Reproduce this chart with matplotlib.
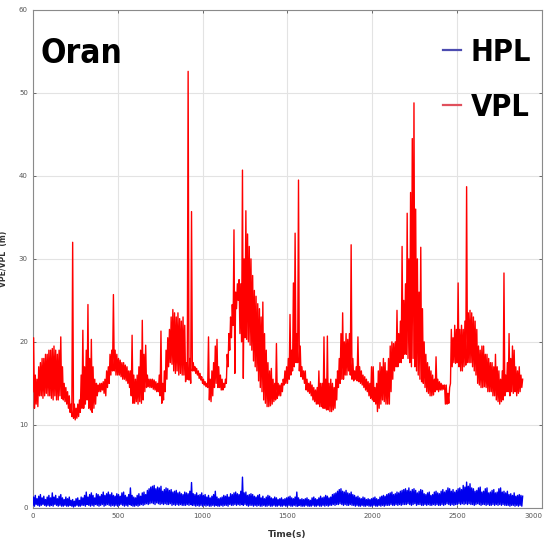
import matplotlib
matplotlib.use("Agg")
import matplotlib.pyplot as plt
from matplotlib.lines import Line2D
import numpy as np

# Sampling of the envelopes: one value every 10 s from 0 to 2880 s
t_start, t_step = 0, 10

# Vertical protection level (m): upper and lower envelope of the fast
# fluctuation, rows of 100 s
vpl_high = [
    20.5, 16.0, 15.5, 17.0, 17.5, 18.0, 18.0, 18.5, 18.5, 19.0,
    19.0, 19.2, 19.5, 19.0, 18.5, 19.0, 20.6, 17.0, 15.0, 14.5,
    14.0, 13.5, 12.5, 32.0, 12.5, 12.0, 12.5, 13.0, 16.0, 21.4,
    17.0, 19.0, 24.5, 18.0, 20.3, 17.0, 15.5, 15.0, 14.8, 15.0,
    15.0, 15.2, 15.5, 16.5, 17.0, 18.5, 19.0, 25.7, 19.0, 18.5,
    18.0, 17.8, 17.5, 17.5, 17.2, 17.0, 16.5, 16.5, 20.8, 16.0,
    15.5, 16.0, 17.0, 19.0, 22.6, 18.5, 19.6, 16.0, 15.5, 15.5,
    15.5, 15.4, 15.2, 15.0, 16.0, 21.3, 15.0, 16.5, 19.0, 20.5,
    21.5, 23.0, 23.9, 23.5, 23.0, 23.5, 22.8, 22.5, 23.0, 22.0,
    17.5, 52.6, 18.0, 35.7, 17.5, 17.0, 16.8, 16.5, 16.2, 15.8,
    15.5, 15.2, 15.0, 20.6, 15.5, 16.5, 17.5, 19.5, 20.3, 17.0,
    16.0, 15.5, 15.0, 15.5, 18.5, 21.0, 23.0, 24.5, 33.5, 26.0,
    27.0, 27.5, 27.0, 40.7, 30.0, 35.8, 33.0, 31.5, 30.0, 28.0,
    26.2, 25.5, 24.6, 24.0, 23.0, 24.8, 21.0, 19.0, 17.5, 16.5,
    16.8, 15.5, 15.0, 19.8, 15.0, 14.8, 15.0, 15.5, 16.5, 17.0,
    18.0, 23.3, 19.0, 27.1, 33.1, 21.0, 39.5, 19.5, 17.0, 16.5,
    16.5, 15.5, 15.0, 15.2, 14.8, 14.5, 14.2, 14.5, 16.5, 15.0,
    15.0, 20.6, 15.5, 20.7, 15.0, 15.5, 15.0, 14.5, 15.5, 16.5,
    18.0, 21.0, 23.5, 20.0, 21.0, 20.3, 21.0, 31.7, 18.0, 16.5,
    17.0, 20.6, 17.0, 16.5, 16.0, 15.8, 15.5, 15.2, 15.0, 17.0,
    17.0, 14.5, 15.0, 16.5, 17.5, 17.0, 18.0, 17.5, 16.5, 18.0,
    19.5, 20.0, 19.8, 20.0, 23.8, 21.0, 22.5, 31.5, 25.0, 27.0,
    35.5, 30.0, 38.0, 44.5, 48.8, 36.0, 30.0, 26.0, 31.4, 24.0,
    20.0, 18.5, 17.5, 17.0, 16.5, 16.0, 15.5, 18.2, 15.5, 15.2,
    15.0, 14.8, 14.8, 14.8, 13.8, 14.5, 21.5, 20.5, 22.0, 21.5,
    27.1, 21.5, 22.0, 21.5, 22.5, 38.7, 23.5, 23.8, 23.5, 23.0,
    22.5, 21.5, 19.5, 19.0, 19.5, 19.5, 18.5, 18.5, 18.0, 17.5,
    17.5, 17.0, 18.5, 17.0, 16.5, 15.5, 16.5, 28.3, 16.0, 17.5,
    21.0, 18.0, 19.5, 19.0, 17.0, 16.5, 17.0, 16.0, 15.5,
]
vpl_low = [
    14.0, 12.0, 12.5, 12.2, 13.5, 13.5, 13.2, 13.5, 13.8, 13.5,
    13.5, 13.2, 13.0, 13.5, 13.0, 13.0, 13.5, 13.2, 13.0, 12.8,
    12.5, 12.0, 11.5, 11.0, 10.8, 10.6, 10.8, 11.0, 11.5, 12.0,
    12.0, 12.5, 13.0, 12.0, 11.8, 11.5, 12.0, 12.5, 13.5, 14.0,
    14.0, 14.2, 13.8, 13.5, 14.5, 15.0, 16.0, 16.5, 16.5, 16.0,
    16.0, 16.0, 15.8, 15.5, 15.5, 15.3, 15.0, 14.5, 13.5, 12.6,
    12.6, 12.8, 12.5, 12.8, 12.6, 13.0, 14.0, 14.5, 14.6, 14.5,
    14.5, 14.3, 14.2, 14.0, 14.0, 13.5, 12.6, 13.0, 14.0, 15.5,
    17.0, 17.5, 17.3, 16.5, 16.2, 16.5, 16.0, 16.2, 16.0, 16.0,
    15.2, 15.5, 15.4, 15.0, 16.5, 16.5, 16.2, 16.0, 15.6, 15.4,
    15.0, 14.8, 14.6, 14.5, 13.0, 12.8, 13.5, 14.5, 15.0, 14.5,
    14.5, 14.2, 14.2, 14.5, 15.0, 17.0, 19.0, 20.5, 22.0, 16.2,
    24.0, 25.0, 21.0, 20.0, 15.6, 20.5, 20.3, 20.0, 19.6, 19.0,
    17.7, 17.0, 16.5, 15.3, 14.5, 14.0, 13.0, 12.6, 12.2, 12.2,
    12.3, 12.5, 12.8, 13.0, 13.2, 13.5, 13.5, 14.0, 14.8, 15.0,
    15.0, 15.5, 16.0, 16.5, 17.0, 17.5, 17.5, 16.5, 15.8, 15.5,
    15.0, 14.2, 14.0, 13.8, 13.5, 13.0, 12.8, 12.5, 12.5, 12.2,
    12.2, 12.0, 12.0, 11.8, 11.8, 11.6, 11.6, 11.8, 12.0, 13.0,
    14.5, 15.0, 15.5, 15.5, 16.0, 16.0, 16.5, 16.0, 15.5, 15.3,
    15.5, 15.3, 15.2, 15.0, 14.8, 14.5, 14.2, 14.0, 13.5, 13.2,
    13.0, 12.8, 12.5, 11.6, 12.0, 12.5, 13.0, 12.8, 12.5, 12.5,
    12.5, 14.0, 15.5, 16.5, 17.0, 17.0, 17.5, 17.5, 18.0, 18.5,
    18.5, 18.0, 17.5, 17.0, 18.0, 17.0, 16.5, 16.0, 15.5, 15.2,
    15.0, 14.5, 14.0, 13.8, 13.5, 13.5, 13.6, 14.0, 14.2, 14.0,
    14.2, 14.2, 14.3, 12.5, 12.5, 12.6, 15.0, 17.0, 17.5, 17.4,
    17.5, 17.0, 16.5, 16.5, 17.0, 17.2, 17.5, 17.5, 17.5, 17.0,
    16.5, 16.0, 15.0, 14.8, 14.5, 14.5, 14.6, 14.5, 14.0, 14.0,
    14.0, 13.5, 13.5, 13.0, 12.8, 12.5, 12.8, 13.0, 13.5, 14.0,
    14.0, 13.5, 14.0, 13.8, 14.0, 13.5, 13.8, 14.0, 14.5,
]

# Horizontal protection level (m): upper and lower envelope, rows of 100 s
hpl_high = [
    1.3, 1.5, 1.1, 1.4, 1.6, 1.2, 1.4, 1.0, 1.3, 1.5,
    1.2, 1.8, 1.3, 1.5, 1.1, 1.4, 1.6, 1.2, 1.0, 1.3,
    1.1, 1.3, 0.9, 1.0, 0.8, 1.1, 1.2, 0.9, 1.3, 1.2,
    1.5, 1.9, 1.3, 1.6, 1.8, 1.5, 1.2, 1.7, 1.6, 1.4,
    1.6, 1.9, 1.5, 1.7, 1.9, 1.6, 1.8, 1.5, 1.4, 1.7,
    1.6, 1.4, 1.8, 1.9, 1.5, 1.3, 1.6, 2.4, 1.5, 1.3,
    1.2, 1.5, 1.7, 1.4, 1.8, 1.9, 1.6, 2.1, 2.3, 2.5,
    2.6, 2.7, 2.3, 2.5, 2.4, 2.6, 2.0, 2.2, 2.4, 2.3,
    2.1, 2.2, 1.9, 2.0, 2.1, 1.8, 1.9, 1.7, 1.6, 1.9,
    1.8, 1.7, 2.0, 3.05, 1.7, 1.6, 1.8, 1.5, 1.6, 1.8,
    1.5, 1.6, 1.3, 1.5, 1.2, 1.4, 1.6, 2.0, 1.3, 1.1,
    1.2, 1.3, 1.5, 1.4, 1.6, 1.3, 1.7, 1.6, 1.8, 1.9,
    1.7, 1.6, 2.0, 3.7, 1.8, 1.9, 1.5, 1.6, 1.7, 1.6,
    1.4, 1.3, 1.5, 1.6, 1.2, 1.4, 1.1, 1.3, 1.5, 1.4,
    1.2, 1.1, 1.3, 1.2, 1.0, 1.1, 1.2, 1.0, 1.1, 1.2,
    1.3, 1.4, 1.2, 1.1, 1.3, 1.9, 1.2, 1.0, 1.1, 1.0,
    1.1, 1.2, 1.0, 0.9, 1.2, 1.3, 1.1, 1.0, 1.2, 1.4,
    1.2, 1.3, 1.5, 1.4, 1.2, 1.3, 1.6, 1.7, 1.8, 2.0,
    2.2, 2.3, 2.0, 1.9, 2.1, 1.8, 1.7, 1.9, 1.6, 1.5,
    1.3, 1.4, 1.2, 1.1, 1.3, 1.2, 1.0, 1.1, 1.0, 1.1,
    1.2, 1.3, 1.1, 1.0, 1.3, 1.4, 1.5, 1.4, 1.6, 1.7,
    1.8, 1.9, 1.6, 1.7, 1.9, 1.8, 2.0, 2.1, 2.2, 2.3,
    2.1, 2.4, 2.0, 2.2, 2.3, 2.1, 1.8, 2.0, 2.2, 2.1,
    1.7, 1.6, 1.8, 1.9, 1.5, 1.6, 1.9, 2.0, 1.8, 1.7,
    2.0, 2.2, 1.9, 2.1, 2.4, 2.3, 2.0, 2.2, 1.9, 2.1,
    2.3, 2.4, 2.2, 2.7, 2.5, 3.1, 2.6, 2.9, 2.4, 2.3,
    2.0, 2.1, 2.4, 2.5, 1.9, 2.0, 2.3, 2.4, 1.8, 1.9,
    2.1, 2.2, 1.8, 1.9, 2.3, 2.4, 1.9, 2.0, 1.8, 2.0,
    1.6, 1.7, 1.5, 1.8, 1.4, 1.5, 1.6, 1.5, 1.4,
]
hpl_low = [
    0.3, 0.2, 0.4, 0.3, 0.2, 0.3, 0.4, 0.3, 0.2, 0.3,
    0.2, 0.3, 0.2, 0.4, 0.3, 0.2, 0.3, 0.2, 0.2, 0.3,
    0.2, 0.2, 0.3, 0.2, 0.1, 0.2, 0.3, 0.2, 0.2, 0.3,
    0.3, 0.2, 0.4, 0.3, 0.2, 0.3, 0.2, 0.4, 0.3, 0.2,
    0.3, 0.4, 0.2, 0.3, 0.4, 0.3, 0.2, 0.3, 0.2, 0.3,
    0.2, 0.3, 0.4, 0.3, 0.2, 0.3, 0.2, 0.4, 0.3, 0.2,
    0.2, 0.3, 0.2, 0.3, 0.4, 0.3, 0.4, 0.5, 0.4, 0.5,
    0.6, 0.5, 0.4, 0.6, 0.5, 0.4, 0.5, 0.4, 0.5, 0.4,
    0.4, 0.5, 0.3, 0.4, 0.3, 0.4, 0.3, 0.4, 0.3, 0.3,
    0.3, 0.4, 0.3, 0.4, 0.3, 0.3, 0.2, 0.3, 0.2, 0.3,
    0.2, 0.3, 0.2, 0.3, 0.2, 0.2, 0.3, 0.2, 0.3, 0.2,
    0.2, 0.3, 0.2, 0.3, 0.3, 0.2, 0.4, 0.3, 0.3, 0.4,
    0.3, 0.4, 0.3, 0.4, 0.3, 0.4, 0.3, 0.2, 0.3, 0.3,
    0.2, 0.3, 0.2, 0.3, 0.2, 0.2, 0.3, 0.2, 0.2, 0.3,
    0.2, 0.2, 0.3, 0.2, 0.2, 0.3, 0.2, 0.2, 0.3, 0.2,
    0.2, 0.3, 0.2, 0.2, 0.3, 0.2, 0.2, 0.3, 0.2, 0.2,
    0.2, 0.3, 0.2, 0.2, 0.2, 0.3, 0.2, 0.2, 0.3, 0.2,
    0.2, 0.3, 0.2, 0.3, 0.2, 0.3, 0.3, 0.4, 0.3, 0.4,
    0.4, 0.5, 0.4, 0.3, 0.4, 0.3, 0.3, 0.4, 0.3, 0.3,
    0.2, 0.3, 0.2, 0.2, 0.3, 0.2, 0.2, 0.3, 0.2, 0.2,
    0.2, 0.3, 0.2, 0.2, 0.3, 0.2, 0.3, 0.2, 0.3, 0.3,
    0.3, 0.4, 0.3, 0.3, 0.4, 0.3, 0.4, 0.3, 0.4, 0.4,
    0.4, 0.5, 0.4, 0.3, 0.4, 0.5, 0.3, 0.4, 0.4, 0.3,
    0.3, 0.4, 0.3, 0.4, 0.3, 0.3, 0.4, 0.3, 0.4, 0.3,
    0.3, 0.4, 0.3, 0.4, 0.5, 0.4, 0.3, 0.4, 0.3, 0.4,
    0.4, 0.5, 0.4, 0.5, 0.4, 0.5, 0.4, 0.5, 0.4, 0.4,
    0.3, 0.4, 0.5, 0.4, 0.3, 0.4, 0.4, 0.3, 0.4, 0.3,
    0.3, 0.4, 0.3, 0.4, 0.3, 0.4, 0.3, 0.4, 0.3, 0.3,
    0.3, 0.2, 0.3, 0.3, 0.2, 0.3, 0.2, 0.3, 0.2,
]

x_ticks = [0, 500, 1000, 1500, 2000, 2500, 3000]
y_ticks = [0, 10, 20, 30, 40, 50, 60]
station = "Oran"
series_names = ["HPL", "VPL"]


def zigzag(low, high):
    """Trace the fast fluctuation: each lower-envelope sample at t is
    followed by the upper-envelope sample half a step later."""
    t = t_start + t_step * np.arange(len(low))
    tt = np.empty(2 * len(t))
    vv = np.empty(2 * len(t))
    tt[0::2], tt[1::2] = t, t + t_step / 2
    vv[0::2], vv[1::2] = low, high
    return tt, vv


fig = plt.figure(figsize=(5.46, 5.52), dpi=100)
ax = fig.add_axes([0.060, 0.080, 0.933, 0.902])

tv, vv = zigzag(vpl_low, vpl_high)
ax.plot(tv, vv, color="#ff0000", lw=1.0, zorder=3)
th, hv = zigzag(hpl_low, hpl_high)
ax.plot(th, hv, color="#0000ee", lw=1.0, zorder=3)

ax.set_xlim(0, 3000)
ax.set_ylim(0, 60)
ax.set_xticks(x_ticks)
ax.set_yticks(y_ticks)
ax.tick_params(axis="both", which="both", direction="in", length=2.5,
               width=0.6, labelsize=5, colors="#555555",
               top=True, right=True)
ax.get_xticklabels()[-1].set_horizontalalignment("right")
ax.grid(True, color="#e3e3e3", lw=0.8, zorder=0)
for s in ax.spines.values():
    s.set_color("#8a8a8a")
    s.set_linewidth(0.8)

ax.set_xlabel("Time(s)", fontsize=6.5, fontweight="bold", color="#333333",
              labelpad=8)
ax.set_ylabel("VPE/VPL  (m)", fontsize=5.5, fontweight="bold",
              color="#333333", labelpad=8)

ax.text(0.016, 0.912, station, transform=ax.transAxes, fontsize=24,
        fontweight="bold", fontstretch="condensed", color="black",
        va="center", ha="left")

handles = [Line2D([], [], color="#4c4cb0", lw=1.6),
           Line2D([], [], color="#e0505c", lw=1.6)]
ax.legend(handles, series_names, loc="upper right",
          bbox_to_anchor=(1.008, 0.975), frameon=False,
          prop={"size": 22, "weight": "bold", "stretch": "condensed"},
          handlelength=0.6, handletextpad=0.3, labelspacing=0.85,
          borderaxespad=0.1)

fig.savefig("out.png", dpi=100)
